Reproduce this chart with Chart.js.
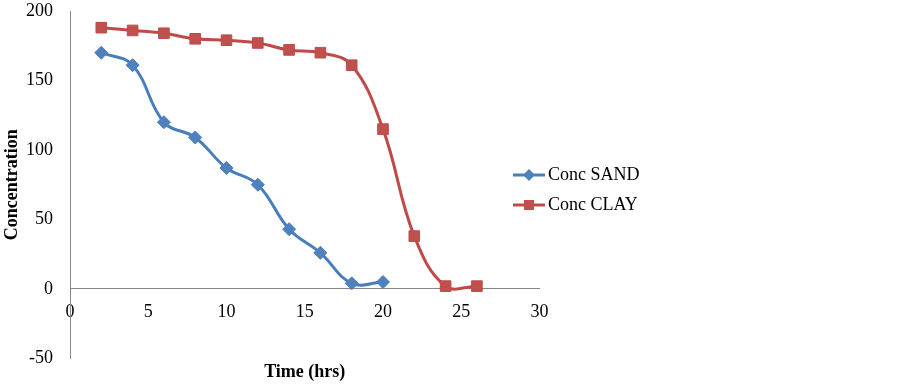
<!DOCTYPE html>
<html>
<head>
<meta charset="utf-8">
<script src="https://cdn.jsdelivr.net/npm/chart.js@4.4.1/dist/chart.umd.min.js"></script>
<style>
  html, body { margin: 0; padding: 0; background: #fff; }
  #wrap { width: 899px; height: 384px; position: relative; }
</style>
</head>
<body>
<div id="wrap"><canvas id="chart"></canvas></div>
<script>
const timeSand = [2, 4, 6, 8, 10, 12, 14, 16, 18, 20];
const concSand = [170, 161, 120, 109, 87, 75, 43, 26, 4, 5];
const timeClay = [2, 4, 6, 8, 10, 12, 14, 16, 18, 20, 22, 24, 26];
const concClay = [188, 186, 184, 180, 179, 177, 172, 170, 161, 115, 38, 2, 2];
const seriesNames = ["Conc SAND", "Conc CLAY"];

const serif = "'Liberation Serif', 'Times New Roman', serif";
const blue = "#4A7EBB", blueFill = "#4F81BD";
const red = "#BE4B48", redFill = "#C0504D";
const axisGray = "#868686";

// legend icon: short line with the marker in the middle
function legendIcon(line, fill, shape) {
  const c = document.createElement("canvas");
  c.width = 32; c.height = 16;
  const g = c.getContext("2d");
  g.strokeStyle = line; g.lineWidth = 3;
  g.beginPath(); g.moveTo(0, 8); g.lineTo(32, 8); g.stroke();
  g.fillStyle = fill;
  g.beginPath();
  if (shape === "diamond") {
    g.moveTo(16, 2); g.lineTo(22, 8); g.lineTo(16, 14); g.lineTo(10, 8); g.closePath();
  } else {
    g.rect(11, 3, 10, 10);
  }
  g.fill();
  return c;
}
const icons = [legendIcon(blue, blueFill, "diamond"), legendIcon(red, redFill, "square")];

// move legend left so it sits like the original (partly over the plot width)
const legendShift = {
  id: "legendShift",
  afterLayout(chart) {
    const lg = chart.legend;
    const dx = lg.left - 507;
    lg.left -= dx; lg.right -= dx;
    lg.top -= 2; lg.bottom -= 2;
  }
};

const canvas = document.getElementById("chart");
new Chart(canvas, {
  type: "line",
  data: {
    datasets: [
      {
        label: seriesNames[0],
        data: timeSand.map((t, i) => ({ x: t, y: concSand[i] })),
        borderColor: blue,
        backgroundColor: blueFill,
        borderWidth: 3,
        pointStyle: "rectRot",
        pointRadius: 6.5,
        pointBorderWidth: 1,
        pointBorderColor: blue,
        tension: 0.4
      },
      {
        label: seriesNames[1],
        data: timeClay.map((t, i) => ({ x: t, y: concClay[i] })),
        borderColor: red,
        backgroundColor: redFill,
        borderWidth: 3,
        pointStyle: "rect",
        pointRadius: 7.5,
        pointBorderWidth: 1,
        pointBorderColor: red,
        tension: 0.4
      }
    ]
  },
  options: {
    responsive: true,
    maintainAspectRatio: false,
    animation: false,
    layout: { padding: { left: 0, right: 217, top: 0, bottom: 0 } },
    plugins: {
      legend: {
        position: "right",
        labels: {
          color: "#000",
          font: { family: serif, size: 18 },
          usePointStyle: true,
          pointStyleWidth: 20,
          padding: 12,
          generateLabels(chart) {
            const items = Chart.defaults.plugins.legend.labels.generateLabels(chart);
            items.forEach((it, i) => { it.pointStyle = icons[i]; });
            return items;
          }
        }
      },
      tooltip: { enabled: false }
    },
    scales: {
      x: {
        type: "linear",
        position: { y: 0 },
        min: 0,
        max: 30,
        ticks: { stepSize: 5, color: "#000", font: { family: serif, size: 18 }, padding: 13 },
        grid: { display: false, drawTicks: false },
        border: { color: axisGray, width: 1 }
      },
      x2: {
        type: "linear",
        position: "bottom",
        ticks: { display: false },
        grid: { display: false, drawTicks: false },
        border: { display: false },
        title: {
          display: true,
          text: "Time (hrs)",
          color: "#000",
          font: { family: serif, size: 18, weight: "bold" },
          padding: { top: 3, bottom: 1 }
        }
      },
      y: {
        type: "linear",
        min: -50,
        max: 200,
        ticks: { stepSize: 50, color: "#000", font: { family: serif, size: 18 }, padding: 17 },
        grid: { display: false, drawTicks: false },
        border: { color: axisGray, width: 1 },
        title: {
          display: true,
          text: "Concentration",
          color: "#000",
          font: { family: serif, size: 18, weight: "bold" },
          padding: { top: 2, bottom: 2 }
        },
        afterFit(scale) {
          // axis line sits at x=70, labels end ~17px before it
          scale.width = 70;
          scale.paddingTop = 11;
          scale.paddingBottom = 11;
        }
      }
    }
  },
  plugins: [legendShift]
});
</script>
</body>
</html>
